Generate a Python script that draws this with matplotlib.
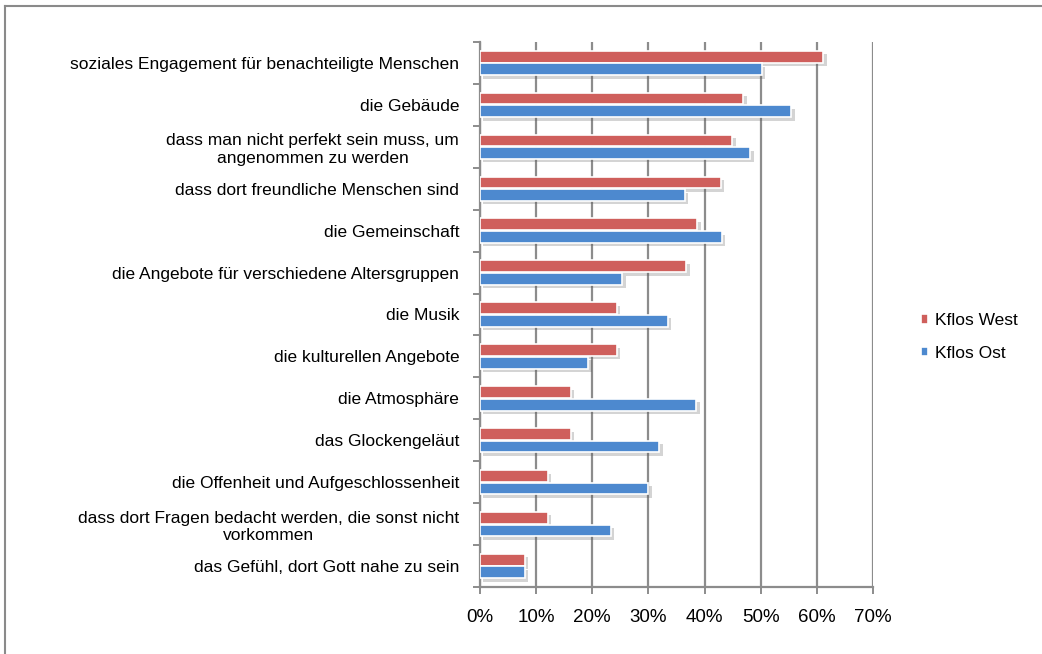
import matplotlib
matplotlib.use("Agg")
import matplotlib.pyplot as plt
import matplotlib.patheffects as pe
from matplotlib.lines import Line2D
import numpy as np

plt.rcParams['font.family'] = ['Liberation Sans', 'DejaVu Sans']

# categories, top to bottom
labels = [
    "soziales Engagement für benachteiligte Menschen",
    "die Gebäude",
    "dass man nicht perfekt sein muss, um\nangenommen zu werden",
    "dass dort freundliche Menschen sind",
    "die Gemeinschaft",
    "die Angebote für verschiedene Altersgruppen",
    "die Musik",
    "die kulturellen Angebote",
    "die Atmosphäre",
    "das Glockengeläut",
    "die Offenheit und Aufgeschlossenheit",
    "dass dort Fragen bedacht werden, die sonst nicht\nvorkommen",
    "das Gefühl, dort Gott nahe zu sein",
]
west = [61.1, 46.9, 44.9, 42.9, 38.7, 36.7, 24.4, 24.4, 16.2, 16.2, 12.1, 12.1, 8.0]
ost = [50.2, 55.4, 48.1, 36.5, 43.1, 25.3, 33.4, 19.3, 38.5, 31.9, 30.0, 23.3, 8.0]
series_names = ["Kflos West", "Kflos Ost"]
xticks = [0, 10, 20, 30, 40, 50, 60, 70]

col_west = "#CF5F5C"
col_ost = "#4D89CF"
grid_col = "#8C8C8C"

fig = plt.figure(figsize=(10.42, 6.54), dpi=100)
ax = fig.add_axes([480/1042, 1-587/654, 393/1042, 545/654])

n = len(labels)
y = np.arange(n)[::-1]  # first category on top
h = 0.28
shadow = [pe.SimplePatchShadow(offset=(2.5, -2.5), shadow_rgbFace="#555555", alpha=0.25), pe.Normal()]

bw = ax.barh(y + h/2 + 0.01, west, height=h, color=col_west, edgecolor="white",
             linewidth=1.2, label=series_names[0], zorder=3)
bo = ax.barh(y - h/2 - 0.01, ost, height=h, color=col_ost, edgecolor="white",
             linewidth=1.2, label=series_names[1], zorder=3)
for b in list(bw) + list(bo):
    b.set_path_effects(shadow)

ax.set_xlim(0, 70)
ax.set_ylim(-0.5, n - 0.5)
ax.set_xticks(xticks)
ax.set_xticklabels([f"{t}%" for t in xticks], fontsize=13.5)
ax.xaxis.grid(True, color=grid_col, linewidth=1.6, zorder=0)
ax.set_axisbelow(True)

ax.set_yticks(y)
ax.set_yticklabels(labels, fontsize=12.5)
for t in ax.get_yticklabels():
    t.set_multialignment("center")
ax.tick_params(axis="y", length=0, pad=15)
ax.set_yticks(np.arange(-0.5, n, 1), minor=True)
ax.tick_params(axis="y", which="minor", length=5, color=grid_col, width=1.4)
ax.tick_params(axis="x", length=5, color=grid_col, width=1.4, pad=11)

for s in ["top", "right"]:
    ax.spines[s].set_visible(False)
for s in ["left", "bottom"]:
    ax.spines[s].set_color(grid_col)
    ax.spines[s].set_linewidth(1.6)

leg = fig.legend(handles=[bw, bo], labels=series_names, loc="center left",
                 bbox_to_anchor=(905/1042, 1-337/654), frameon=False, fontsize=12.5,
                 handlelength=0.45, handleheight=0.45, handletextpad=0.35, labelspacing=1.0)
for hd in leg.legend_handles:
    hd.set_path_effects([])

# figure frame (top and left edges)
fig.add_artist(Line2D([5/1042, 1], [1-6/654, 1-6/654], color="#8A8A8A", linewidth=1.5))
fig.add_artist(Line2D([5/1042, 5/1042], [0, 1-6/654], color="#8A8A8A", linewidth=1.5))

fig.savefig("out.png", dpi=100, facecolor="white")
